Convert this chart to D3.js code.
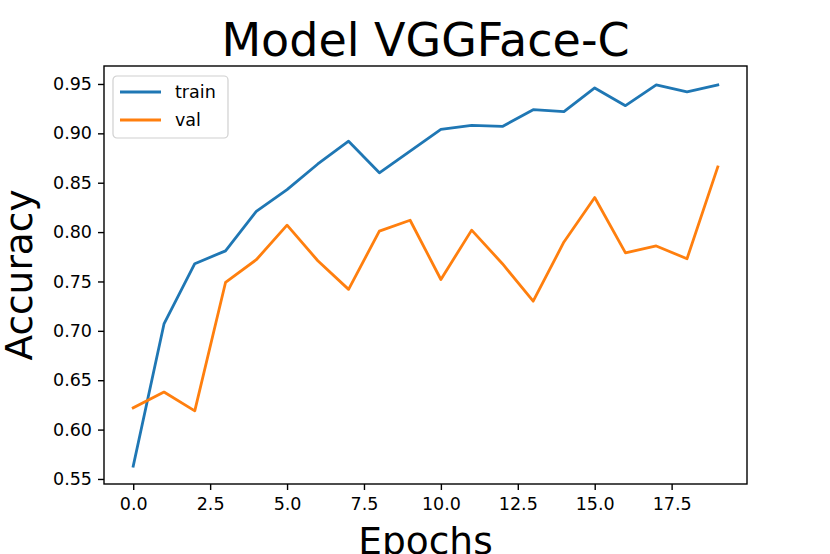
<!DOCTYPE html>
<html lang="en">
<head>
    <meta charset="UTF-8">
    <title>Model VGGFace-C</title>
    <style>
        body {
            margin: 0;
            padding: 0;
            background-color: #fff;
            overflow: hidden;
            font-family: "DejaVu Sans", sans-serif;
        }

        .tick text {
            font-family: "DejaVu Sans", sans-serif;
            font-size: 17.5px;
            fill: #000;
        }
    </style>
</head>
<body>
    <div id="chart"></div>

    <script src="https://d3js.org/d3.v7.min.js"></script>
    <script>
        // accuracy per epoch
        const epochs = d3.range(0, 20);
        const trainAcc = [0.563, 0.707, 0.768, 0.781, 0.821, 0.843, 0.869, 0.892, 0.860, 0.882,
                          0.904, 0.908, 0.907, 0.924, 0.922, 0.946, 0.928, 0.949, 0.942, 0.949];
        const valAcc = [0.622, 0.638, 0.619, 0.749, 0.772, 0.807, 0.771, 0.742, 0.801, 0.812,
                        0.752, 0.802, 0.768, 0.730, 0.790, 0.835, 0.779, 0.786, 0.773, 0.866];
        const xTicks = [0, 2.5, 5, 7.5, 10, 12.5, 15, 17.5];
        const yTicks = [0.55, 0.60, 0.65, 0.70, 0.75, 0.80, 0.85, 0.90, 0.95];
        const seriesNames = ['train', 'val'];

        const width = 830;
        const height = 554;
        const margin = { top: 66, right: 83, bottom: 70, left: 104 };
        const plotW = width - margin.left - margin.right;
        const plotH = height - margin.top - margin.bottom;

        const colors = ['#1f77b4', '#ff7f0e'];

        const svg = d3.select('#chart')
            .append('svg')
            .attr('width', width)
            .attr('height', height);

        svg.append('rect')
            .attr('width', width)
            .attr('height', height)
            .attr('fill', '#fff');

        const g = svg.append('g')
            .attr('transform', `translate(${margin.left},${margin.top})`);

        // matplotlib-like 5% margins around the data
        const x = d3.scaleLinear().domain([-0.95, 19.95]).range([0, plotW]);
        const y = d3.scaleLinear().domain([0.5449, 0.9682]).range([plotH, 0]);

        const line = d3.line()
            .x((d, i) => x(epochs[i]))
            .y(d => y(d));

        [trainAcc, valAcc].forEach((series, k) => {
            g.append('path')
                .datum(series)
                .attr('fill', 'none')
                .attr('stroke', colors[k])
                .attr('stroke-width', 2.8)
                .attr('stroke-linejoin', 'round')
                .attr('stroke-linecap', 'square')
                .attr('d', line);
        });

        // axes
        const xAxis = g.append('g')
            .attr('transform', `translate(0,${plotH})`)
            .call(d3.axisBottom(x).tickValues(xTicks).tickFormat(d3.format('.1f'))
                .tickSize(6).tickPadding(8).tickSizeOuter(0));
        const yAxis = g.append('g')
            .call(d3.axisLeft(y).tickValues(yTicks).tickFormat(d3.format('.2f'))
                .tickSize(6).tickPadding(6).tickSizeOuter(0));

        [xAxis, yAxis].forEach(a => {
            a.select('.domain').remove();
            a.selectAll('.tick line').attr('stroke', '#000').attr('stroke-width', 1.4);
        });

        // frame
        g.append('rect')
            .attr('width', plotW)
            .attr('height', plotH)
            .attr('fill', 'none')
            .attr('stroke', '#000')
            .attr('stroke-width', 1.4);

        // legend
        const legend = g.append('g').attr('transform', 'translate(9,10)');
        legend.append('rect')
            .attr('width', 115)
            .attr('height', 62)
            .attr('rx', 4)
            .attr('fill', '#fff')
            .attr('fill-opacity', 0.8)
            .attr('stroke', '#d0d0d0')
            .attr('stroke-width', 1.2);
        seriesNames.forEach((name, k) => {
            const ly = 16 + k * 28;
            legend.append('line')
                .attr('x1', 7).attr('x2', 48)
                .attr('y1', ly).attr('y2', ly)
                .attr('stroke', colors[k])
                .attr('stroke-width', 2.8);
            legend.append('text')
                .attr('x', 62)
                .attr('y', ly + 6)
                .attr('font-size', '17.5px')
                .attr('fill', '#000')
                .text(name);
        });

        // title and axis labels
        svg.append('text')
            .attr('x', margin.left + plotW / 2)
            .attr('y', 56)
            .attr('text-anchor', 'middle')
            .attr('font-size', '46px')
            .attr('fill', '#000')
            .text('Model VGGFace-C');

        svg.append('text')
            .attr('x', margin.left + plotW / 2)
            .attr('y', 554)
            .attr('text-anchor', 'middle')
            .attr('font-size', '37.5px')
            .attr('fill', '#000')
            .text('Epochs');

        svg.append('text')
            .attr('transform', `translate(32,${margin.top + plotH / 2}) rotate(-90)`)
            .attr('text-anchor', 'middle')
            .attr('font-size', '37.5px')
            .attr('fill', '#000')
            .text('Accuracy');
    </script>
</body>
</html>
